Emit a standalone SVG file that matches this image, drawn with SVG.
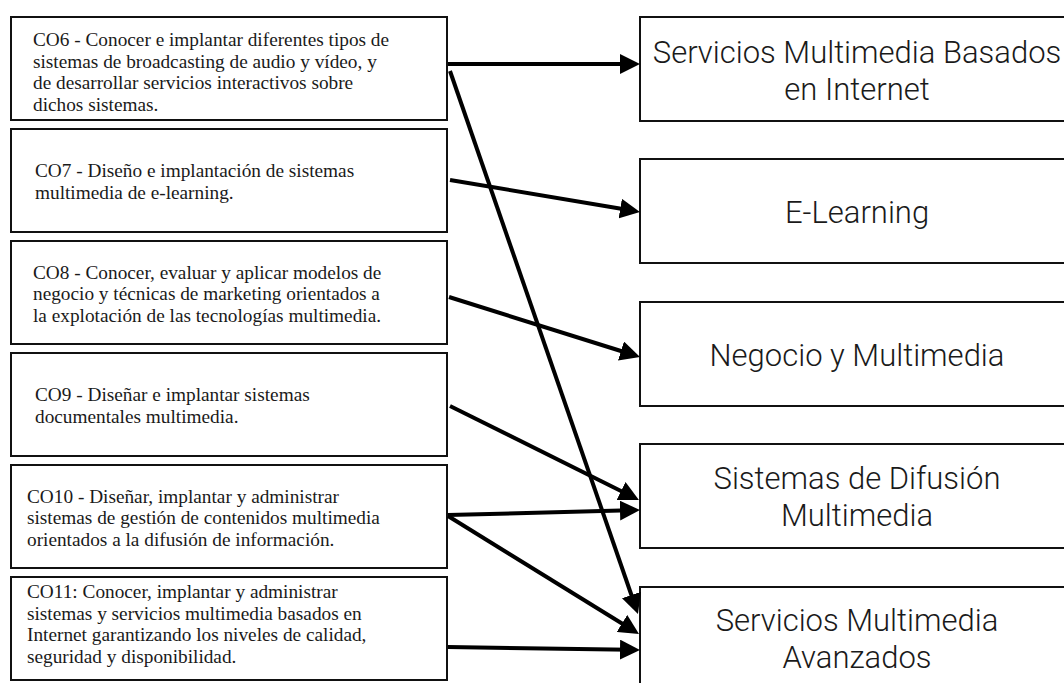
<svg xmlns="http://www.w3.org/2000/svg" width="1064" height="683" viewBox="0 0 1064 683">
<defs>
<style>
.lbox{fill:#fff;stroke:#111;stroke-width:2}
.rbox{fill:#fff;stroke:#111;stroke-width:2}
.lt{font-family:"Liberation Serif","Times New Roman",serif;font-size:19.3px;fill:#1a1a1a}
.rt{font-family:Roboto,"Liberation Sans",Arial,sans-serif;font-weight:300;font-size:31px;fill:#1a1a1a;text-anchor:middle}
.conn{stroke:#000;stroke-width:4;fill:none;marker-end:url(#ah)}
</style>
<marker id="ah" markerUnits="userSpaceOnUse" markerWidth="20" markerHeight="20" refX="10" refY="10" orient="auto" viewBox="0 0 20 20">
<path d="M0,0 L20,10 L0,20 Z" fill="#000"/>
</marker>
</defs>
<rect width="1064" height="683" fill="#fff"/>
<g id="co6"><rect class="lbox" x="11" y="17" width="436" height="103"/>
<text class="lt" x="33" y="46">CO6 - Conocer e implantar diferentes tipos de</text>
<text class="lt" x="33" y="67.5">sistemas de broadcasting de audio y vídeo, y</text>
<text class="lt" x="33" y="89">de desarrollar servicios interactivos sobre</text>
<text class="lt" x="33" y="110.5">dichos sistemas.</text></g>
<g id="co7"><rect class="lbox" x="11" y="129" width="436" height="103"/>
<text class="lt" x="35" y="177">CO7 - Diseño e implantación de sistemas</text>
<text class="lt" x="35" y="198.5">multimedia de e-learning.</text></g>
<g id="co8"><rect class="lbox" x="11" y="241" width="436" height="103"/>
<text class="lt" x="33" y="278.5">CO8 - Conocer, evaluar y aplicar modelos de</text>
<text class="lt" x="33" y="300">negocio y técnicas de marketing orientados a</text>
<text class="lt" x="33" y="321.5">la explotación de las tecnologías multimedia.</text></g>
<g id="co9"><rect class="lbox" x="11" y="353" width="436" height="103"/>
<text class="lt" x="35" y="401">CO9 - Diseñar e implantar sistemas</text>
<text class="lt" x="35" y="422.5">documentales multimedia.</text></g>
<g id="co10"><rect class="lbox" x="11" y="465" width="436" height="103"/>
<text class="lt" x="27" y="502.5">CO10 - Diseñar, implantar y administrar</text>
<text class="lt" x="27" y="524">sistemas de gestión de contenidos multimedia</text>
<text class="lt" x="27" y="545.5">orientados a la difusión de información.</text></g>
<g id="co11"><rect class="lbox" x="11" y="577" width="436" height="103"/>
<text class="lt" x="27" y="598">CO11: Conocer, implantar y administrar</text>
<text class="lt" x="27" y="619.5">sistemas y servicios multimedia basados en</text>
<text class="lt" x="27" y="641">Internet garantizando los niveles de calidad,</text>
<text class="lt" x="27" y="662.5">seguridad y disponibilidad.</text></g>
<g id="r1"><rect class="rbox" x="640" y="17" width="440" height="104"/>
<text class="rt" x="857" y="63">Servicios Multimedia Basados</text>
<text class="rt" x="857" y="100">en Internet</text></g>
<g id="r2"><rect class="rbox" x="640" y="159" width="440" height="104"/>
<text class="rt" x="857" y="223">E-Learning</text></g>
<g id="r3"><rect class="rbox" x="640" y="302" width="440" height="104"/>
<text class="rt" x="857" y="366">Negocio y Multimedia</text></g>
<g id="r4"><rect class="rbox" x="640" y="444" width="440" height="104"/>
<text class="rt" x="857" y="489">Sistemas de Difusión</text>
<text class="rt" x="857" y="526">Multimedia</text></g>
<g id="r5"><rect class="rbox" x="640" y="587" width="440" height="110"/>
<text class="rt" x="857" y="631">Servicios Multimedia</text>
<text class="rt" x="857" y="668">Avanzados</text></g>
<g id="connectors">
<path class="conn" d="M448,64 L630,64"/>
<path class="conn" d="M450,71 L634.7,604.5"/>
<path class="conn" d="M450,180 L630.1,210.3"/>
<path class="conn" d="M449,297 L630.5,354"/>
<path class="conn" d="M450,406 L630,495.5"/>
<path class="conn" d="M448,515 L630,510.3"/>
<path class="conn" d="M448,516 L630.5,628.7"/>
<path class="conn" d="M448,647 L630,649.8"/>
</g>
</svg>
